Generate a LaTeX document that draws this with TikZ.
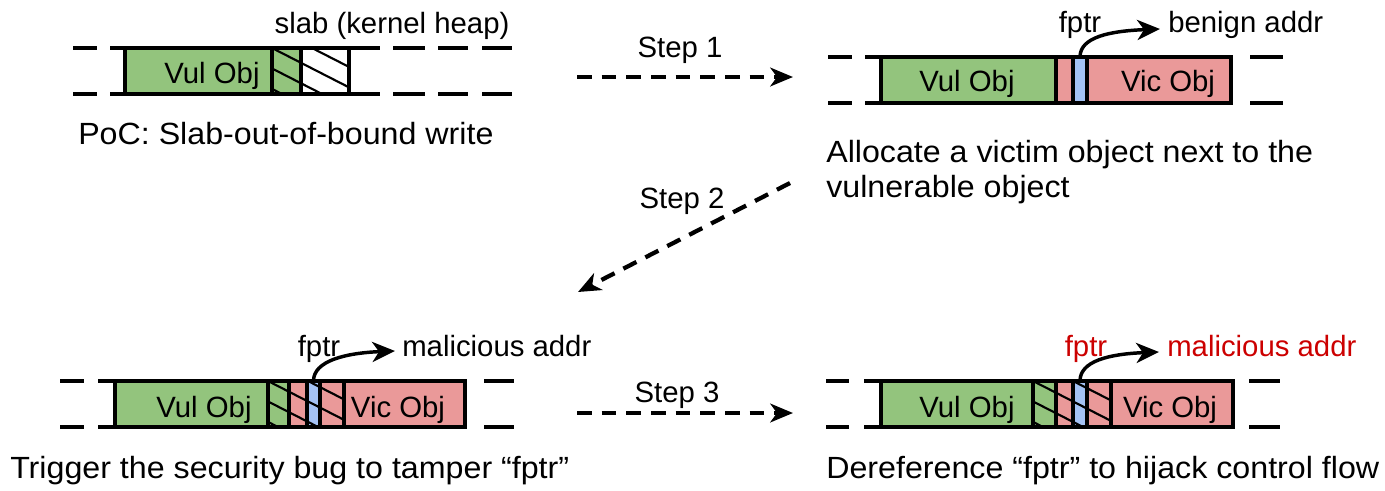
\documentclass[tikz,border=0pt]{standalone}
\usepackage{fontspec}
\setmainfont{Liberation Sans}
\newfontfamily\capfont[FakeStretch=1.05]{Liberation Sans}
\usetikzlibrary{arrows.meta}

\definecolor{objgreen}{HTML}{93C47D}
\definecolor{objred}{HTML}{EA9999}
\definecolor{ptrblue}{HTML}{A4C2F4}
\definecolor{alertred}{HTML}{CC0000}

\tikzset{
  edge/.style={line width=3pt},
  hatchline/.style={line width=1.6pt},
  steparrow/.style={line width=3.2pt, dash pattern=on 11pt off 7.5pt,
    -{Stealth[length=17pt,width=14pt,inset=5pt]}},
  ptrarrow/.style={line width=2.6pt, -{Stealth[length=17pt,width=15pt,inset=5pt]}},
  lbl/.style={font=\fontsize{22}{26}\selectfont, inner sep=0pt, anchor=base},
  caption/.style={font=\capfont\fontsize{23}{28}\selectfont, inner sep=0pt, anchor=base west},
}

% diagonal hatching inside a slab region: x1, x2, top, bottom
\newcommand\hatchzone[4]{%
  \begin{scope}
    \clip (#1,#3) rectangle (#2,#4);
    \foreach \k in {-3,...,4}
      \draw[hatchline] ({#1+40*\k},#3) -- ++(90,{#4-#3});
  \end{scope}}

% dashed slab continuation: a list of x-intervals on both rails
\newcommand\rails[3]{% top, bottom, list of a/b
  \foreach \a/\b in {#3} {
    \draw[edge] (\a,#1) -- (\b,#1);
    \draw[edge] (\a,#2) -- (\b,#2);
  }}

\begin{document}
\begin{tikzpicture}[x=0.75pt,y=-0.75pt]
\useasboundingbox (0,0) rectangle (1385,490);

% ---------- PoC: initial slab ----------
\fill[objgreen] (125,48) rectangle (301,94);
\hatchzone{272}{349}{48}{94}
\draw[edge] (125,48) rectangle (349,94);
\draw[edge] (272,48) -- (272,94) (301,48) -- (301,94);
\draw[edge] (349,48) -- (380,48) (349,94) -- (380,94);
\rails{48}{94}{73/97,110/125,393/425,438/468,482/512}
\node[lbl] (vul1) at (212,83) {Vul Obj};
\node[lbl] (slab) at (392,33) {slab (kernel heap)};
\node[caption] (cap1) at (78,144) {PoC: Slab-out-of-bound write};

% ---------- Step 1: victim allocated ----------
\fill[objgreen] (881,57) rectangle (1056,103);
\fill[objred] (1056,57) rectangle (1231,103);
\fill[ptrblue] (1073,57) rectangle (1087,103);
\draw[edge] (881,57) rectangle (1231,103);
\draw[edge] (1056,57) -- (1056,103) (1073,57) -- (1073,103) (1087,57) -- (1087,103);
\rails{57}{103}{828/852,865/881,1250/1283}
\node[lbl] (vul2) at (967,91) {Vul Obj};
\node[lbl] (vic2) at (1168,91) {Vic Obj};
\node[lbl] (fptr2) at (1080,32) {fptr};
\node[lbl, anchor=base west] (addr2) at (1168,32) {benign addr};
\coordinate (ptr2) at (1080,57);
\coordinate (tip2) at (1160,29);
\draw[ptrarrow] (ptr2) .. controls +(0,-20) and +(-50,2) .. (tip2);
\node[caption] (cap2a) at (826,162) {Allocate a victim object next to the};
\node[caption] (cap2b) at (826,197) {vulnerable object};

% ---------- Step 2: overflow tampers fptr ----------
\fill[objgreen] (115,381) rectangle (289,427);
\fill[objred] (289,381) rectangle (465,427);
\fill[ptrblue] (307,381) rectangle (320,427);
\hatchzone{268}{344}{381}{427}
\draw[edge] (115,381) rectangle (465,427);
\draw[edge] (268,381) -- (268,427) (289,381) -- (289,427) (307,381) -- (307,427)
            (320,381) -- (320,427) (344,381) -- (344,427);
\rails{381}{427}{60/84,98/115,484/514}
\node[lbl] (vul3) at (204,417) {Vul Obj};
\node[lbl] (vic3) at (398,417) {Vic Obj};
\node[lbl] (fptr3) at (319,356) {fptr};
\node[lbl, anchor=base west] (addr3) at (402,356) {malicious addr};
\coordinate (ptr3) at (313.5,381);
\coordinate (tip3) at (395,351);
\draw[ptrarrow] (ptr3) .. controls +(0,-20) and +(-50,2) .. (tip3);
\node[caption] (cap3) at (10,478) {Trigger the security bug to tamper “fptr”};

% ---------- Step 3: control-flow hijack ----------
\fill[objgreen] (881,381) rectangle (1056,427);
\fill[objred] (1056,381) rectangle (1233,427);
\fill[ptrblue] (1073,381) rectangle (1087,427);
\hatchzone{1033}{1111}{381}{427}
\draw[edge] (881,381) rectangle (1233,427);
\draw[edge] (1033,381) -- (1033,427) (1056,381) -- (1056,427) (1073,381) -- (1073,427)
            (1087,381) -- (1087,427) (1111,381) -- (1111,427);
\rails{381}{427}{826/849,864/881,1249/1280}
\node[lbl] (vul4) at (967,417) {Vul Obj};
\node[lbl] (vic4) at (1170,417) {Vic Obj};
\node[lbl, text=alertred] (fptr4) at (1086,356) {fptr};
\node[lbl, anchor=base west, text=alertred] (addr4) at (1167,356) {malicious addr};
\coordinate (ptr4) at (1080,381);
\coordinate (tip4) at (1159,352);
\draw[ptrarrow] (ptr4) .. controls +(0,-20) and +(-50,2) .. (tip4);
\node[caption] (cap4) at (826,478) {Dereference “fptr” to hijack control flow};

% ---------- step arrows ----------
\coordinate (s1a) at (577,77);  \coordinate (s1b) at (793,77);
\coordinate (s2a) at (790,183); \coordinate (s2b) at (578,292);
\coordinate (s3a) at (577,413); \coordinate (s3b) at (793,413);
\draw[steparrow] (s1a) -- (s1b);
\draw[steparrow] (s2a) -- (s2b);
\draw[steparrow] (s3a) -- (s3b);
\node[lbl] (step1) at (680,57) {Step 1};
\node[lbl] (step2) at (682,208) {Step 2};
\node[lbl] (step3) at (677,402) {Step 3};

\end{tikzpicture}
\end{document}
